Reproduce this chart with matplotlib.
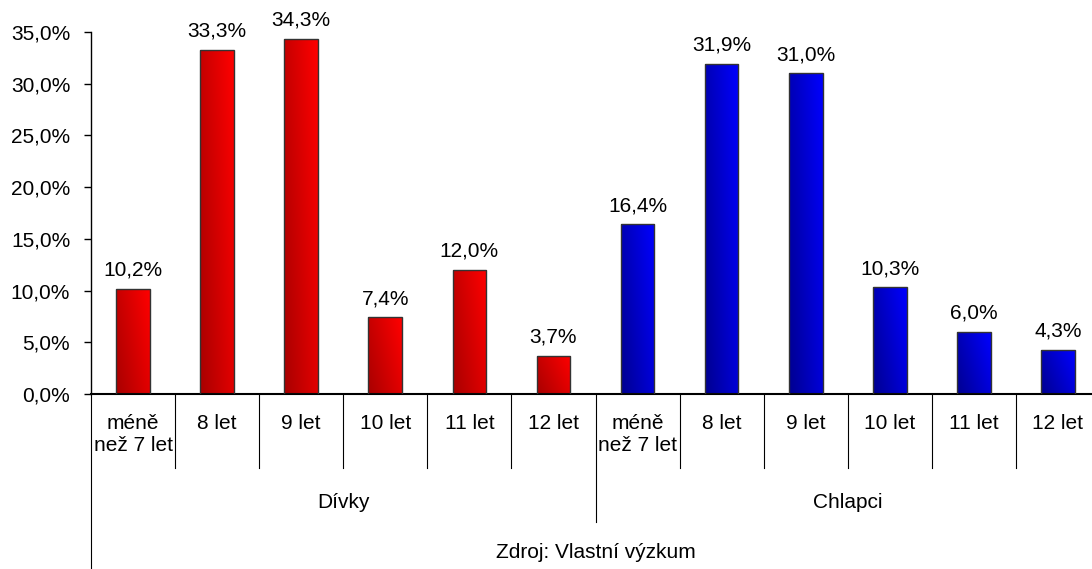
import numpy as np
import matplotlib
matplotlib.use("Agg")
import matplotlib.pyplot as plt
from matplotlib.colors import LinearSegmentedColormap
from matplotlib.ticker import FuncFormatter

plt.rcParams['font.family'] = ['Liberation Sans', 'DejaVu Sans']

categories = ["méně\nnež 7 let", "8 let", "9 let", "10 let", "11 let", "12 let"]
groups = ["Dívky", "Chlapci"]
divky = [10.2, 33.3, 34.3, 7.4, 12.0, 3.7]
chlapci = [16.4, 31.9, 31.0, 10.3, 6.0, 4.3]
source = "Zdroj: Vlastní výzkum"

red_cmap = LinearSegmentedColormap.from_list("r", ["#a80000", "#ff0000"])
blue_cmap = LinearSegmentedColormap.from_list("b", ["#000090", "#0000ff"])

FS = 15

fig = plt.figure(figsize=(10.92, 5.69), dpi=100)
ax = fig.add_axes([91 / 1092, 175 / 569, 1009 / 1092, 362 / 569])

n = len(categories)
values = divky + chlapci
x = np.arange(2 * n)
width = 0.4

# diagonal gradient: dark bottom-left -> bright top-right
u, v = np.meshgrid(np.linspace(0, 1, 50), np.linspace(0, 1, 100))
grad = 0.65 * u + 0.35 * v

for i, val in enumerate(values):
    cmap = red_cmap if i < n else blue_cmap
    bar = ax.bar(x[i], val, width=width, facecolor="none", edgecolor="#333333",
                 linewidth=1.0, zorder=3)[0]
    im = ax.imshow(grad, cmap=cmap, origin="lower", aspect="auto",
                   extent=[x[i] - width / 2, x[i] + width / 2, 0, val], zorder=2)
    im.set_clip_path(bar)
    ax.text(x[i], val + 0.9, f"{val:.1f}%".replace(".", ","), ha="center",
            va="bottom", fontsize=FS)

ax.set_xlim(-0.5, 2 * n - 0.5)
ax.set_ylim(0, 35)
ax.set_yticks(np.arange(0, 36, 5))
ax.yaxis.set_major_formatter(FuncFormatter(lambda y, p: f"{y:.1f}%".replace(".", ",")))
ax.tick_params(axis="y", labelsize=FS, length=5, width=1, direction="out", pad=10)
ax.set_xticks([])
for s in ["top", "right"]:
    ax.spines[s].set_visible(False)
ax.spines["left"].set_linewidth(1.0)
ax.spines["bottom"].set_linewidth(1.5)

# category labels and separators below the axis
tr = ax.get_xaxis_transform()
for i in range(2 * n):
    ax.text(x[i], -0.055, categories[i % n], transform=tr, ha="center", va="top",
            fontsize=FS, linespacing=1.2)
for i in range(1, 2 * n):
    if i == n:
        continue
    ax.plot([i - 0.5, i - 0.5], [0, -0.204], transform=tr, color="black",
            linewidth=0.8, clip_on=False)
ax.plot([n - 0.5, n - 0.5], [0, -0.354], transform=tr, color="black",
        linewidth=0.8, clip_on=False)
ax.plot([-0.5, -0.5], [0, -0.49], transform=tr, color="black",
        linewidth=0.8, clip_on=False)

for g, name in enumerate(groups):
    ax.text(g * n + (n - 1) / 2, -0.30, name, transform=tr, ha="center",
            va="center", fontsize=FS)
ax.text(n - 0.5, -0.438, source, transform=tr, ha="center", va="center",
        fontsize=FS)

fig.savefig("out.png", dpi=100)
